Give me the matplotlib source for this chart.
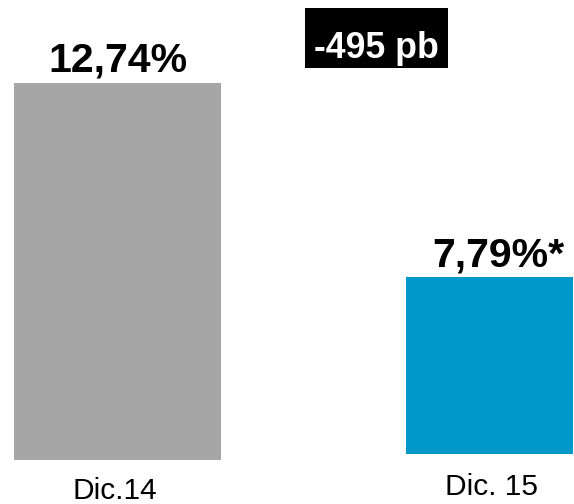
import matplotlib
matplotlib.use("Agg")
import matplotlib.pyplot as plt
from matplotlib.patches import Rectangle

# Data
categories = ["Dic.14", "Dic. 15"]
values = [12.74, 7.79]
value_labels = ["12,74%", "7,79%*"]
change_label = "-495 pb"
colors = ["#A6A6A6", "#0097C9"]

plt.rcParams["font.family"] = ["Liberation Sans", "DejaVu Sans"]

W, H = 574, 504
fig = plt.figure(figsize=(W / 100, H / 100), dpi=100)


def px_rect(left, top, right, bottom):
    """Figure-fraction rectangle from pixel edges (origin top-left)."""
    return [left / W, 1 - bottom / H, (right - left) / W, (bottom - top) / H]


panels = [px_rect(14, 83, 221, 460), px_rect(406, 277, 573, 454)]
label_dx_px = [0, 9]
cat_pos_px = [(115, 499), (491.5, 495)]

for rect, cat, v, lbl, c, dx, (cx, cy) in zip(
    panels, categories, values, value_labels, colors, label_dx_px, cat_pos_px
):
    ax = fig.add_axes(rect)
    ax.bar([0], [v], width=1.0, color=c)
    ax.set_xlim(-0.5, 0.5)
    ax.set_ylim(0, v)
    ax.axis("off")
    ax.annotate(
        lbl, xy=(0, v), xytext=(dx * 0.72, 11 * 0.72), textcoords="offset points",
        ha="center", va="baseline", fontsize=29.5, fontweight="bold",
        color="black", annotation_clip=False,
    )
    fig.text(cx / W, 1 - cy / H, cat, ha="center", va="baseline",
             fontsize=21.5, color="black")

# Change badge
fig.patches.append(Rectangle((305 / W, 1 - 68 / H), 143 / W, 60 / H,
                             transform=fig.transFigure, facecolor="black",
                             edgecolor="none"))
fig.text(376.5 / W, 1 - 58 / H, change_label, ha="center", va="baseline",
         fontsize=25.7, fontweight="bold", color="white")

fig.savefig("out.png", dpi=100)
